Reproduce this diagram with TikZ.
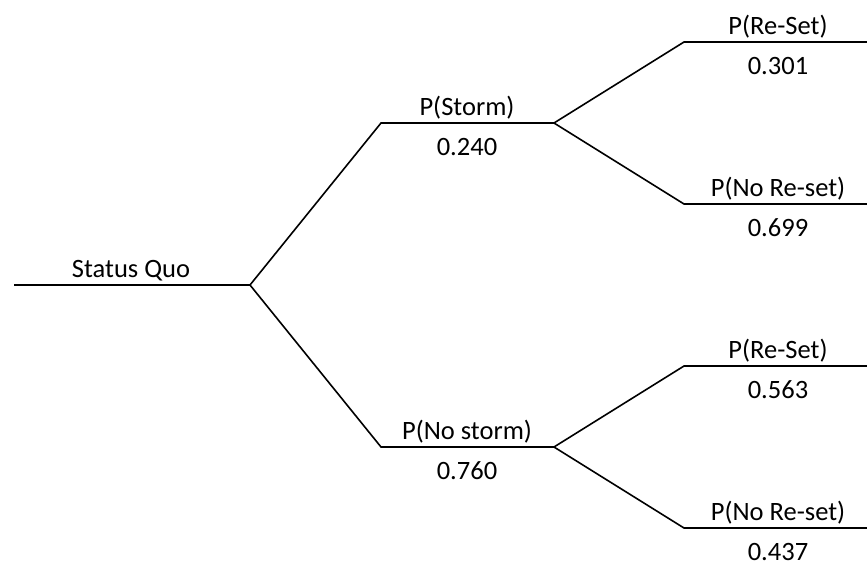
\documentclass[tikz,border=0pt]{standalone}
\usepackage{fontspec}
\setmainfont{Carlito}
\begin{document}
\begin{tikzpicture}[x=1pt,y=-1pt,
  branch/.style={line width=1.6pt,black},
  lab/.style={anchor=base,inner sep=0pt,font=\fontsize{26.5}{30}\selectfont},
]
\useasboundingbox (0,0) rectangle (867,565);
% line end points
\coordinate (sqA) at (14,285);
\coordinate (sqB) at (250,285);
\coordinate (stA) at (381,123);
\coordinate (stB) at (554,123);
\coordinate (nsA) at (381,447);
\coordinate (nsB) at (554,447);
\coordinate (r1A) at (684,42);
\coordinate (r1B) at (867,42);
\coordinate (n1A) at (684,204);
\coordinate (n1B) at (867,204);
\coordinate (r2A) at (684,366);
\coordinate (r2B) at (867,366);
\coordinate (n2A) at (684,528);
\coordinate (n2B) at (867,528);
% lines
\draw[branch] (sqA) -- (sqB);
\draw[branch] (sqB) -- (stA) -- (stB);
\draw[branch] (sqB) -- (nsA) -- (nsB);
\draw[branch] (stB) -- (r1A) -- (r1B);
\draw[branch] (stB) -- (n1A) -- (n1B);
\draw[branch] (nsB) -- (r2A) -- (r2B);
\draw[branch] (nsB) -- (n2A) -- (n2B);
% labels
\node[lab] (sqT) at (131,277) {Status Quo};
\node[lab] (stT) at (467,115) {P(Storm)};
\node[lab] (stV) at (467,155) {0.240};
\node[lab] (nsT) at (467,439) {P(No storm)};
\node[lab] (nsV) at (467,479) {0.760};
\node[lab] (r1T) at (778,34) {P(Re-Set)};
\node[lab] (r1V) at (778,74) {0.301};
\node[lab] (n1T) at (778,196) {P(No Re-set)};
\node[lab] (n1V) at (778,236) {0.699};
\node[lab] (r2T) at (778,358) {P(Re-Set)};
\node[lab] (r2V) at (778,398) {0.563};
\node[lab] (n2T) at (778,520) {P(No Re-set)};
\node[lab] (n2V) at (778,560) {0.437};
\end{tikzpicture}
\end{document}
